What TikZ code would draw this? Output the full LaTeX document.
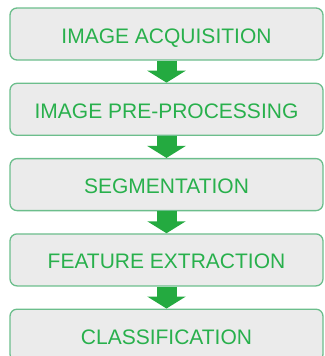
\documentclass[tikz,border=0pt]{standalone}
\usepackage{fontspec}
\setmainfont{Liberation Sans}
\definecolor{stagetext}{RGB}{40,176,76}
\definecolor{stageline}{RGB}{108,190,140}
\definecolor{stagebg}{RGB}{235,235,235}
\definecolor{flowgreen}{RGB}{36,170,64}
\usetikzlibrary{arrows.meta, positioning}
\tikzset{
  stage/.style={rectangle, rounded corners=7pt,
    draw=stageline, fill=stagebg, line width=1.3pt,
    minimum height=52pt, minimum width=313pt,
    text height=18pt, text depth=0pt,
    align=center, text=stagetext, font=\fontsize{21pt}{24pt}\selectfont},
  flow/.style={-{Triangle[width=38pt,length=12pt]},
    line width=20pt, draw=flowgreen},
}

\begin{document}
\begin{tikzpicture}[node distance=22pt]
  \useasboundingbox (0,0) rectangle (324pt,-356pt);
  \node[stage] (acq) at (166.5pt,-34pt) {IMAGE ACQUISITION};
  \node[stage, below=of acq] (pre) {IMAGE PRE-PROCESSING};
  \node[stage, below=of pre] (seg) {SEGMENTATION};
  \node[stage, below=of seg] (feat) {FEATURE EXTRACTION};
  \node[stage, below=of feat] (cls) {CLASSIFICATION};

  \draw[flow] (acq) -- (pre);
  \draw[flow] (pre) -- (seg);
  \draw[flow] (seg) -- (feat);
  \draw[flow] (feat) -- (cls);
\end{tikzpicture}
\end{document}
